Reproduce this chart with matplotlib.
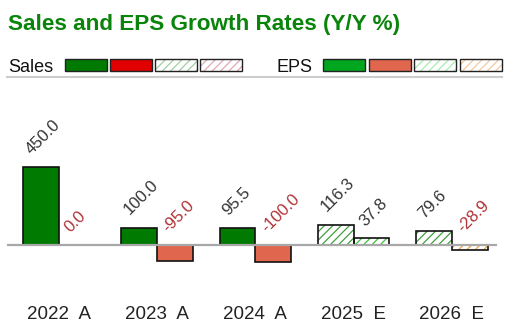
import numpy as np
import matplotlib.pyplot as plt
from matplotlib.patches import Rectangle

# data
years = ["2022  A", "2023  A", "2024  A", "2025  E", "2026  E"]
is_estimate = [False, False, False, True, True]
sales_growth = [450.0, 100.0, 95.5, 116.3, 79.6]
eps_growth = [0.0, -95.0, -100.0, 37.8, -28.9]

W, H = 505, 330
DPI = 100

# colours: (actual pos, actual neg, est pos hatch, est neg hatch)
sales_cols = ["#007a00", "#e00000", "#3f9f3f", "#d0808f"]
eps_cols = ["#00a61e", "#e0674d", "#3cc03c", "#f0a040"]
legend_sales = ["#007a00", "#e00000", "#9fd09f", "#e0a8b4"]
legend_eps = ["#00a61e", "#e0674d", "#a8ecb0", "#f6c8a0"]

plt.rcParams["font.family"] = ["Liberation Sans", "DejaVu Sans"]
plt.rcParams["hatch.linewidth"] = 0.9

fig = plt.figure(figsize=(W / DPI, H / DPI), dpi=DPI)


def fx(px):
    return px / W


def fy(py):
    return 1 - py / H


ax = fig.add_axes([fx(7), fy(280), fx(497) - fx(7), fy(90) - fy(280)])

x = np.arange(len(years))
bw = 0.365


def draw_bar(xl, v, est, cols):
    if est:
        c = cols[2] if v >= 0 else cols[3]
        ax.bar(xl, v, bw, align="edge", color="white", hatch="////",
               edgecolor=c, linewidth=0, zorder=2)
        ax.bar(xl, v, bw, align="edge", fill=False, edgecolor="#111111",
               linewidth=1.2, zorder=3)
    else:
        c = cols[0] if v >= 0 else cols[1]
        ax.bar(xl, v, bw, align="edge", color=c, edgecolor="#111111",
               linewidth=1.2, zorder=3)


for i in range(len(years)):
    s = sales_growth[i]
    e = eps_growth[i]
    if s != 0:
        draw_bar(x[i] - bw, s, is_estimate[i], sales_cols)
    if e != 0:
        draw_bar(x[i], e, is_estimate[i], eps_cols)
    # value labels, rotated 45 deg, top-left corner anchored above the bar
    ax.annotate(f"{s:.1f}", xy=(x[i] - bw, max(s, 0)), xytext=(0, 21),
                textcoords="offset pixels", rotation=45, rotation_mode="anchor",
                ha="left", va="top", fontsize=12, color="#333333")
    ax.annotate(f"{e:.1f}", xy=(x[i], max(e, 0)), xytext=(3, 20),
                textcoords="offset pixels", rotation=45, rotation_mode="anchor",
                ha="left", va="top", fontsize=12,
                color="#333333" if e > 0 else "#b03034")

ax.axhline(0, color="#a8a8a8", linewidth=1.6, zorder=4)
ax.set_xlim(-0.53, 4.46)
# zero sits at 245px, about 0.173 px per unit
ax.set_ylim(-(280 - 245) / 0.173, (245 - 90) / 0.173)
ax.set_xticks(x)
ax.set_xticklabels(years, fontsize=13.5, color="#222222")
ax.tick_params(axis="x", length=0, pad=19)
ax.set_yticks([])
for sp in ax.spines.values():
    sp.set_visible(False)

# title
fig.text(fx(8), fy(30), "Sales and EPS Growth Rates (Y/Y %)", fontsize=16.2,
         fontweight="bold", color="#0a840a", ha="left", va="baseline")

# legend row
fig.text(fx(8), fy(72), "Sales", fontsize=13, color="#111111", va="baseline")
fig.text(fx(277), fy(72), "EPS", fontsize=13, color="#111111", va="baseline")


def swatch(x0, c, hatched):
    r = Rectangle((fx(x0), fy(71)), fx(42), fy(59) - fy(71), transform=fig.transFigure,
                  facecolor="white" if hatched else c, edgecolor=c if hatched else "none",
                  hatch="////" if hatched else None, linewidth=0)
    fig.add_artist(r)
    fig.add_artist(Rectangle((fx(x0), fy(71)), fx(42), fy(59) - fy(71),
                             transform=fig.transFigure, fill=False,
                             edgecolor="#222222", linewidth=1.0))


for k, x0 in enumerate([65, 110, 155, 200]):
    swatch(x0, legend_sales[k], k >= 2)
for k, x0 in enumerate([323, 369, 414, 460]):
    swatch(x0, legend_eps[k], k >= 2)

fig.add_artist(plt.Line2D([fx(7), fx(502)], [fy(77), fy(77)], transform=fig.transFigure,
                          color="#cccccc", linewidth=1.5))

fig.savefig("out.png", dpi=DPI)
